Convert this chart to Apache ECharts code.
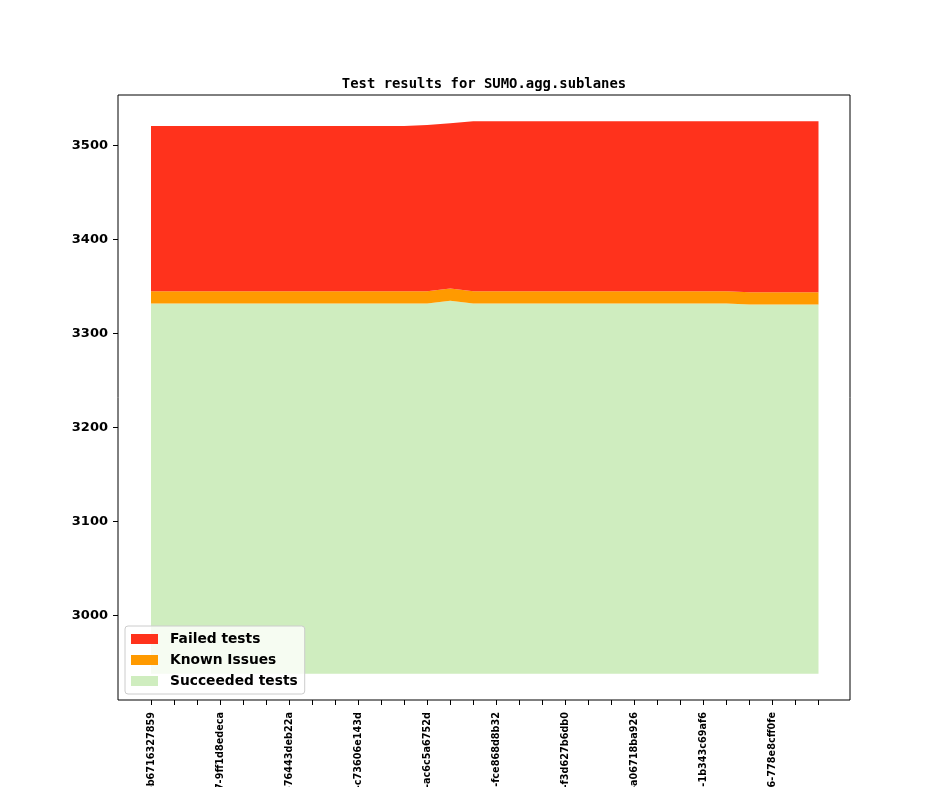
<!DOCTYPE html>
<html>
<head>
<meta charset="utf-8">
<script src="https://cdn.jsdelivr.net/npm/echarts@6/dist/echarts.min.js"></script>
<style>
  html, body { margin: 0; padding: 0; background: #fff; }
  #chart { width: 944px; height: 787px; }
</style>
</head>
<body>
<div id="chart"></div>
<script>
// commits (x axis)
var commits = [
  'v1_21_0+0412-b6716327859', 'v1_21_0+0415-3a9e0c21f7b', 'v1_21_0+0419-e04b7d1c982',
  'v1_21_0+0427-9ff1d8edeca', 'v1_21_0+0431-5d2c8a7e610', 'v1_21_0+0436-c81f4b09d3e',
  'v1_21_0+0440-76443deb22a', 'v1_21_0+0444-0b9d37e5a18', 'v1_21_0+0449-f62a1c8d4b7',
  'v1_21_0+0453-c73606e143d', 'v1_21_0+0458-2e7b9f03ac5', 'v1_21_0+0462-8d1a6c5e2f9',
  'v1_21_0+0465-ac6c5a6752d', 'v1_21_0+0469-4f03b8e9d21', 'v1_21_0+0472-71ce5a2b08d',
  'v1_21_0+0478-fce868d8b32', 'v1_21_0+0481-9a4d2e7c15f', 'v1_21_0+0485-d3b0f61a8e4',
  'v1_21_0+0490-f3d627b6db0', 'v1_21_0+0494-6e8c1d4a97b', 'v1_21_0+0497-1c5f9b3e2a0',
  'v1_21_0+0503-a06718ba926', 'v1_21_0+0506-b92e4d7c0f3', 'v1_21_0+0510-05a8e3f6c1d',
  'v1_21_0+0514-1b343c69af6', 'v1_21_0+0519-e7d2a90b4c8', 'v1_21_0+0522-3f6b1e8d5a2',
  'v1_21_0+0526-778e8cff0fe', 'v1_21_0+0531-ca10d7e39b6', 'v1_21_0+0535-8b5e2f4d07a'
]
var succeeded = [3332, 3332, 3332, 3332, 3332, 3332, 3332, 3332, 3332, 3332,
                 3332, 3332, 3332, 3335, 3332, 3332, 3332, 3332, 3332, 3332,
                 3332, 3332, 3332, 3332, 3332, 3332, 3331, 3331, 3331, 3331]
var known = [13, 13, 13, 13, 13, 13, 13, 13, 13, 13,
             13, 13, 13, 13, 13, 13, 13, 13, 13, 13,
             13, 13, 13, 13, 13, 13, 13, 13, 13, 13]
var failed = [176, 176, 176, 176, 176, 176, 176, 176, 176, 176,
              176, 176, 177, 176, 181, 181, 181, 181, 181, 181,
              181, 181, 181, 181, 181, 181, 182, 182, 182, 182]
var yTicks = [3000, 3100, 3200, 3300, 3400, 3500]
var baseline = 2938
var yMin = 2910
var yMax = 3554

var chart = echarts.init(document.getElementById('chart'))

var areaSeries = function(name, data, color, origin) {
  var s = {
    name: name,
    type: 'line',
    stack: 'total',
    data: data,
    symbol: 'none',
    color: color,
    lineStyle: { width: 0 },
    areaStyle: { color: color, opacity: 1 },
    itemStyle: { color: color },
    emphasis: { disabled: true },
    xAxisIndex: 0,
    yAxisIndex: 0,
  }
  if (origin) s.areaStyle.origin = origin
  return s
}

var option = {
  backgroundColor: '#fff',
  animation: false,
  title: {
    text: 'Test results for SUMO.agg.sublanes',
    left: 479,
    top: 72,
    textAlign: 'center',
    textStyle: {
      fontFamily: 'DejaVu Sans Mono',
      fontWeight: 'bold',
      fontSize: 13.9,
      color: '#000',
    },
  },
  legend: {
    orient: 'vertical',
    left: 125,
    top: 626,
    data: ['Failed tests', 'Known Issues', 'Succeeded tests'],
    icon: 'rect',
    itemWidth: 27,
    itemHeight: 10,
    itemGap: 7,
    padding: [6, 7, 6, 6],
    backgroundColor: 'rgba(255,255,255,0.8)',
    borderColor: '#cccccc',
    borderWidth: 1,
    borderRadius: 3,
    selectedMode: false,
    textStyle: {
      fontFamily: 'DejaVu Sans',
      fontWeight: 'bold',
      fontSize: 13.8,
      lineHeight: 11,
      color: '#000',
      padding: [0, 0, 0, 7],
    },
  },
  grid: [
    // data area
    { left: 151, right: 125.5, top: 95, bottom: 87, outerBoundsMode: 'none', containLabel: false },
    // frame
    { left: 118, right: 94, top: 95, bottom: 87, outerBoundsMode: 'none', containLabel: false,
      show: true, borderColor: '#000', borderWidth: 1, backgroundColor: 'transparent' },
  ],
  xAxis: [
    {
      gridIndex: 0,
      type: 'category',
      data: commits,
      boundaryGap: false,
      axisLine: { show: false },
      axisTick: { show: true, interval: 0, length: 5, lineStyle: { color: '#000' } },
      axisLabel: {
        interval: 2,
        rotate: 90,
        margin: 12,
        fontFamily: 'DejaVu Sans',
        fontWeight: 'bold',
        fontSize: 9.7,
        color: '#000',
      },
      splitLine: { show: false },
    },
    { gridIndex: 1, type: 'value', show: false },
  ],
  yAxis: [
    { gridIndex: 0, type: 'value', min: yMin, max: yMax, show: false },
    {
      gridIndex: 1,
      type: 'value',
      min: yMin,
      max: yMax,
      axisLine: { show: false },
      axisTick: { show: true, length: 5, lineStyle: { color: '#000' }, customValues: yTicks },
      axisLabel: {
        margin: 10,
        fontFamily: 'DejaVu Sans',
        fontWeight: 'bold',
        fontSize: 13,
        color: '#000',
        customValues: yTicks,
        formatter: function(v) {
          return String(v)
        },
      },
      splitLine: { show: false },
    },
  ],
  series: [
    areaSeries('Succeeded tests', succeeded, '#cfedbf', baseline),
    areaSeries('Known Issues', known, '#ff9a00'),
    areaSeries('Failed tests', failed, '#ff321c'),
  ],
}

chart.setOption(option)
window.addEventListener('resize', function() {
  chart.resize()
})
</script>
</body>
</html>
